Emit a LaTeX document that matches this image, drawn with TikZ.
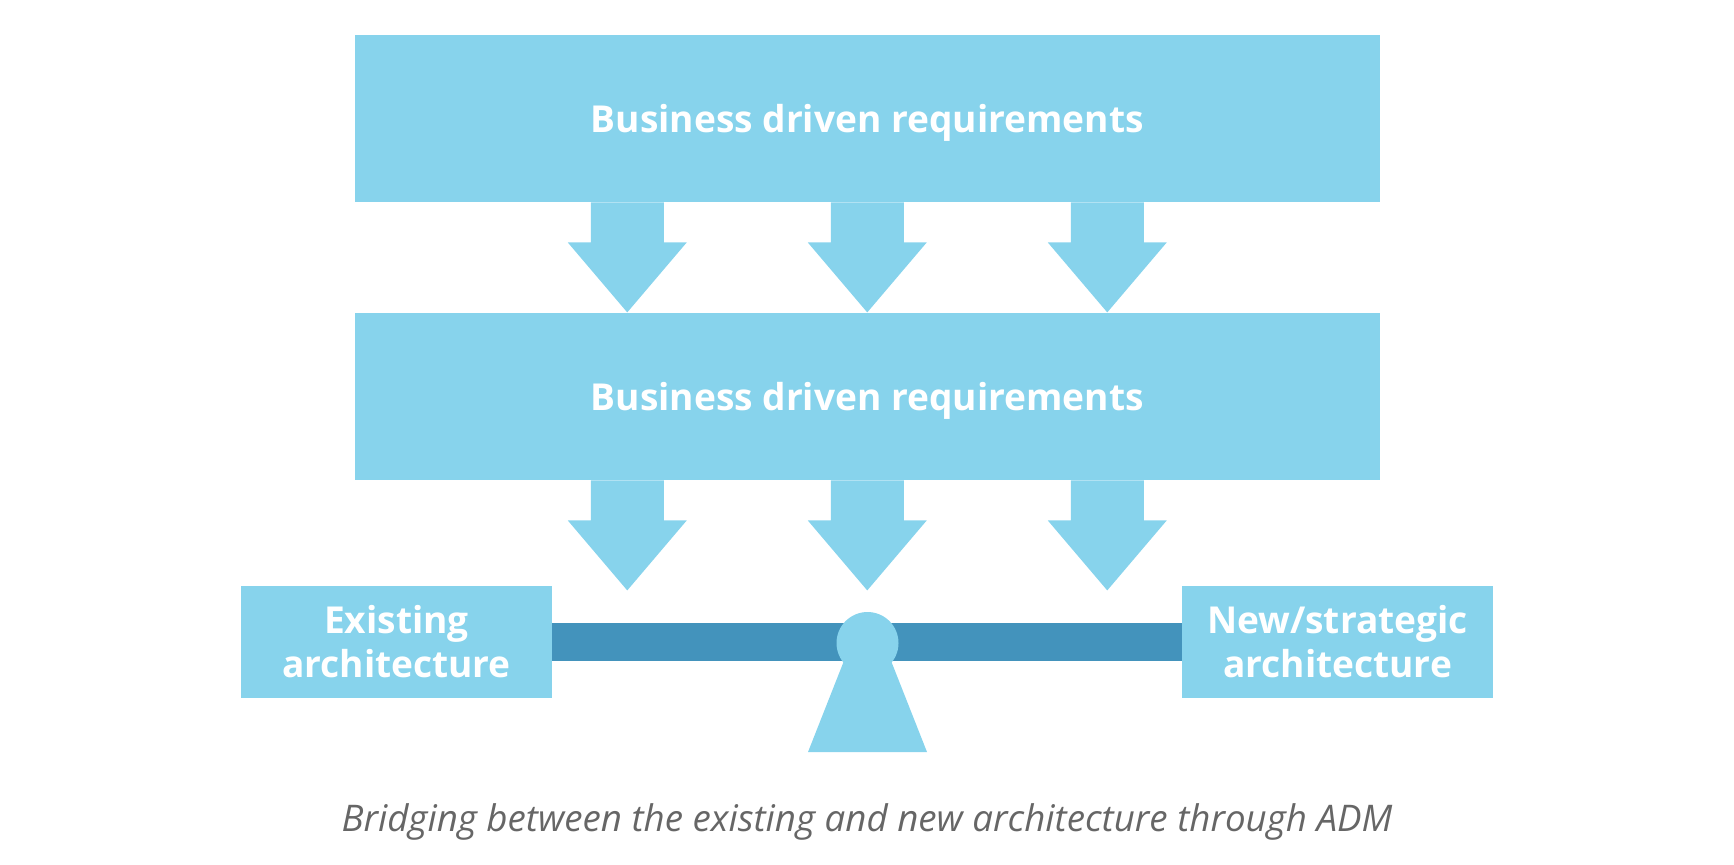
\documentclass[tikz,border=0pt]{standalone}
\usepackage{fontspec}
\setmainfont{Open Sans}
\usetikzlibrary{positioning}
\definecolor{lightblue}{HTML}{87D3EC}
\definecolor{beamblue}{HTML}{4393BC}
\definecolor{captiongray}{HTML}{666666}
\tikzset{%
  every req/.style={
    fill=lightblue,
    text=white,
    inner sep=0pt,
    font=\fontsize{18.55}{22}\selectfont\bfseries,
    align=center
  },
  wide req/.style={
    every req,
    text depth=0pt,
    minimum width=512.75pt,
    minimum height=83.5pt
  },
  side req/.style={
    every req,
    minimum width=155.5pt,
    minimum height=56pt
  },
}

\begin{document}
\begin{tikzpicture}[x=0.5pt,y=-0.5pt]
    \useasboundingbox (0,0) rectangle (1734,864);
    \node[wide req](upper) at (867.25,118.5){Business driven requirements};
    \node[wide req](lower) at (867.25,396.5){Business driven requirements};
    \node[side req](existing) at (396.5,642){Existing\\architecture};
    \node[side req](strategic) at (1337.5,642){New/strategic\\architecture};
    % block arrows under both boxes
    \foreach \req in {upper,lower}{
      \foreach \ax in {-240,0,240}{
        \fill[lightblue] ([xshift=\ax*0.5pt-18.25pt]\req.south) -- ++(0,40) -- ++(-23,0)
          -- ++(59.5,70) -- ++(59.5,70*-1) -- ++(-23,0) -- ++(0,-40) -- cycle;
      }
    }
    % the beam and its pivot
    \draw[beamblue,line width=19pt] (existing) -- (strategic);
    \node[circle,fill=lightblue,inner sep=0pt,minimum size=31pt](pivot) at (867.5,643){};
    \coordinate (base) at (867.5,752);
    \fill[lightblue] ([xshift=-29.75pt]base) -- ([xshift=-12pt,yshift=-9.5pt]pivot.center) -- ([xshift=12pt,yshift=-9.5pt]pivot.center)
      -- ([xshift=29.75pt]base) -- cycle;
    \node[text=captiongray,font=\fontsize{18.35}{22}\selectfont\itshape](caption) at (867,822){Bridging between the existing and new architecture through ADM};
\end{tikzpicture}
\end{document}
